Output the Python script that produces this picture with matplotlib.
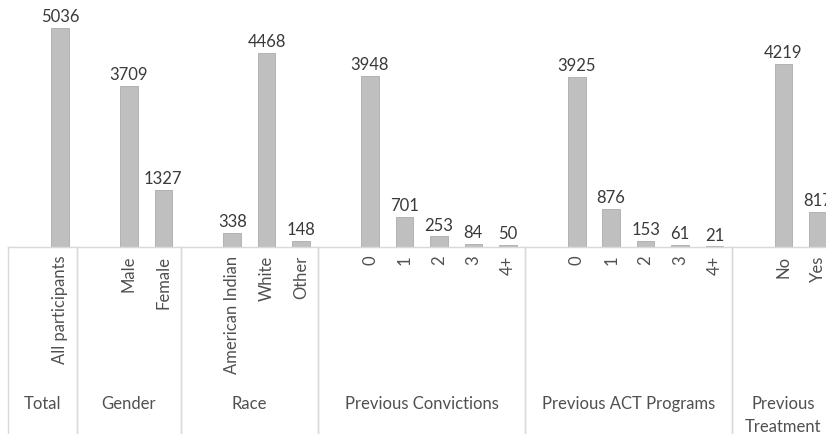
import matplotlib
matplotlib.use("Agg")
import matplotlib.pyplot as plt
from matplotlib.transforms import blended_transform_factory

plt.rcParams['font.family'] = ['Lato', 'DejaVu Sans']

group_names = ["Total", "Gender", "Race", "Previous Convictions",
               "Previous ACT Programs", "Previous\nTreatment"]
group_labels = [["All participants"],
                ["Male", "Female"],
                ["American Indian", "White", "Other"],
                ["0", "1", "2", "3", "4+"],
                ["0", "1", "2", "3", "4+"],
                ["No", "Yes"]]
group_counts = [[5036],
                [3709, 1327],
                [338, 4468, 148],
                [3948, 701, 253, 84, 50],
                [3925, 876, 153, 61, 21],
                [4219, 817]]

# each group starts with one empty slot, like blank rows in the sheet
xs, heights, labels, bounds = [], [], [], []
pos = 0
for names, counts in zip(group_labels, group_counts):
    start = pos
    pos += 1
    for n, c in zip(names, counts):
        xs.append(pos)
        heights.append(c)
        labels.append(n)
        pos += 1
    bounds.append((start - 0.5, pos - 0.5))

fig = plt.figure(figsize=(8.26, 4.34), dpi=100)
slot = 34.45 / 826
ax = fig.add_axes([8.3 / 826, 186.7 / 434, slot * pos, 247.3 / 434])

ax.bar(xs, heights, width=0.51, color="#BFBFBF", edgecolor="#ABABAB", linewidth=0.6)
for x, h in zip(xs, heights):
    ax.annotate(str(h), (x, h), xytext=(0, 2), textcoords="offset points",
                ha="center", va="bottom", fontsize=12, color="#3A3A3A")

ax.set_xlim(-0.5, pos - 0.5)
ax.set_ylim(0, 5686)
for s in ["top", "right", "left"]:
    ax.spines[s].set_visible(False)
ax.spines["bottom"].set_color("#D9D9D9")
ax.spines["bottom"].set_linewidth(1.0)
ax.set_yticks([])
ax.set_xticks(xs)
ax.set_xticklabels(labels, rotation=90, fontsize=12, color="#505050")
ax.tick_params(axis="x", length=0, pad=6)

trans = blended_transform_factory(ax.transData, ax.transAxes)
for (a, b), g in zip(bounds, group_names):
    for edge in (a, b):
        ax.plot([edge, edge], [0, -1.0], transform=trans, color="#D9D9D9",
                linewidth=1.0, clip_on=False)
    ax.text((a + b) / 2, -0.6, g, transform=trans, ha="center", va="top",
            fontsize=12, color="#505050", linespacing=1.55)

fig.savefig("out.png", dpi=100)
